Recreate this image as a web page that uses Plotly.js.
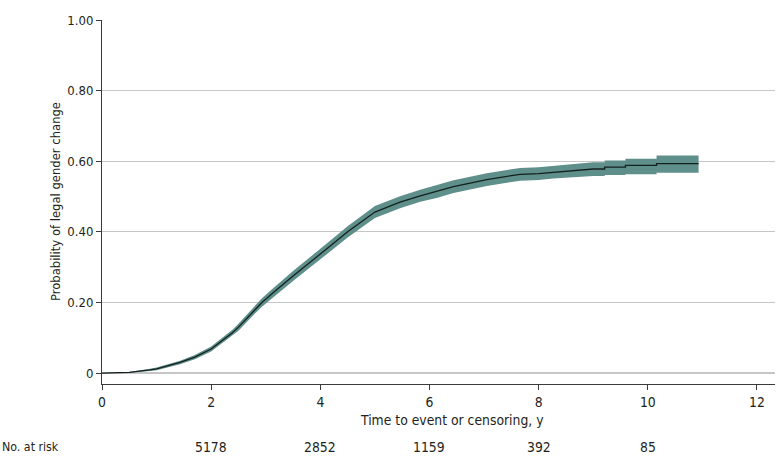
<!DOCTYPE html>
<html>
<head>
<meta charset="utf-8">
<script src="https://cdn.plot.ly/plotly-3.0.1.min.js"></script>
<style>html,body{margin:0;padding:0;background:#fff;}#chart{width:780px;height:474px;}</style>
</head>
<body>
<div id="chart"></div>
<script>
// Kaplan-Meier style cumulative incidence
const timeYears = [0, 0.5, 0.88, 1.0, 1.43, 1.7, 2.0, 2.39, 2.5, 2.78, 2.93, 3.14, 3.5, 4.0, 4.5, 5.0, 5.46, 5.83, 6.13, 6.44, 7.05, 7.66, 8.0, 8.27, 8.6, 9.0, 9.21, 9.21, 9.59, 9.59, 10.16, 10.16, 10.93];
const probability = [0, 0.002, 0.009, 0.012, 0.030, 0.045, 0.068, 0.114, 0.130, 0.176, 0.200, 0.228, 0.275, 0.337, 0.400, 0.456, 0.484, 0.502, 0.514, 0.528, 0.548, 0.563, 0.565, 0.569, 0.574, 0.578, 0.578, 0.583, 0.583, 0.588, 0.588, 0.593, 0.593];
const lowerCI = [0, 0.001, 0.006, 0.008, 0.025, 0.039, 0.061, 0.105, 0.120, 0.165, 0.188, 0.215, 0.261, 0.322, 0.384, 0.439, 0.467, 0.485, 0.496, 0.510, 0.530, 0.545, 0.547, 0.551, 0.555, 0.558, 0.558, 0.561, 0.561, 0.563, 0.563, 0.567, 0.567];
const upperCI = [0, 0.003, 0.012, 0.016, 0.035, 0.051, 0.075, 0.123, 0.140, 0.187, 0.212, 0.241, 0.289, 0.352, 0.416, 0.473, 0.501, 0.519, 0.532, 0.546, 0.566, 0.581, 0.583, 0.587, 0.592, 0.597, 0.597, 0.602, 0.602, 0.607, 0.607, 0.616, 0.616];

const xTicks = [0, 2, 4, 6, 8, 10, 12];
const yTicks = [0, 0.2, 0.4, 0.6, 0.8, 1.0];
const yTickLabels = ['0', '0.20', '0.40', '0.60', '0.80', '1.00'];
const riskTimes = [2, 4, 6, 8, 10];
const numberAtRisk = ['5178', '2852', '1159', '392', '85'];

const FONT = 'DejaVu Sans Condensed, DejaVu Sans, sans-serif';
const TXT = '#231f20';

const traces = [
  {x: timeYears, y: lowerCI, type: 'scatter', mode: 'lines', line: {width: 0, color: 'rgba(0,0,0,0)'}, hoverinfo: 'skip', showlegend: false},
  {x: timeYears, y: upperCI, type: 'scatter', mode: 'lines', fill: 'tonexty', fillcolor: '#5f8f8a', line: {width: 0, color: 'rgba(0,0,0,0)'}, hoverinfo: 'skip', showlegend: false},
  {x: timeYears, y: probability, type: 'scatter', mode: 'lines', line: {width: 1.3, color: '#14201f'}, showlegend: false}
];

const annotations = [];
riskTimes.forEach((t, i) => {
  annotations.push({x: t, xref: 'x', y: -0.172, yref: 'paper', text: numberAtRisk[i], showarrow: false, xanchor: 'center', yanchor: 'middle', font: {family: FONT, size: 13.8, color: TXT}});
});
annotations.push({x: -0.1516, xref: 'paper', y: -0.172, yref: 'paper', text: 'No. at risk', showarrow: false, xanchor: 'left', yanchor: 'middle', font: {family: FONT, size: 12.3, color: TXT}});
annotations.push({x: 0.52, xref: 'paper', y: -0.099, yref: 'paper', text: 'Time to event or censoring, y', showarrow: false, xanchor: 'center', yanchor: 'middle', font: {family: FONT, size: 13.8, color: TXT}});
annotations.push({x: -0.0698, xref: 'paper', y: 0.5, yref: 'paper', text: 'Probability of legal gender change', textangle: -90, showarrow: false, xanchor: 'center', yanchor: 'middle', font: {family: FONT, size: 12.9, color: TXT}});

const layout = {
  width: 780, height: 474,
  margin: {l: 102, r: 5, t: 20, b: 90},
  paper_bgcolor: '#fff', plot_bgcolor: '#fff',
  font: {family: FONT, size: 13, color: TXT},
  xaxis: {
    range: [0, 12.33], tickvals: xTicks, ticktext: xTicks.map(String),
    showgrid: false, zeroline: false, showline: true, linecolor: '#3a3a3a', linewidth: 1,
    ticks: 'outside', ticklen: 5, tickcolor: '#3a3a3a', tickwidth: 1,
    tickfont: {family: FONT, size: 13.8, color: TXT}
  },
  yaxis: {
    range: [-0.031, 1.0], tickvals: yTicks, ticktext: yTickLabels,
    showgrid: true, gridcolor: '#c6c6c6', gridwidth: 1.2, zeroline: false,
    showline: true, linecolor: '#3a3a3a', linewidth: 1,
    ticks: 'outside', ticklen: 5, tickcolor: '#3a3a3a', tickwidth: 1,
    tickfont: {family: FONT, size: 13, color: TXT}
  },
  annotations: annotations,
  showlegend: false
};

Plotly.newPlot('chart', traces, layout, {displayModeBar: false, staticPlot: true});
</script>
</body>
</html>
